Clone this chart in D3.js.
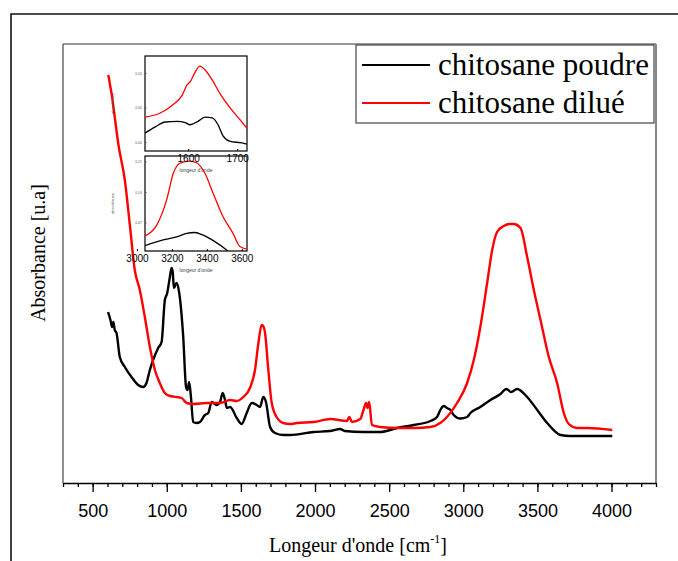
<!DOCTYPE html>
<html>
<head>
<meta charset="utf-8">
<script src="https://cdn.jsdelivr.net/npm/d3@7"></script>
<style>
  body { margin: 0; background: #fff; }
  svg { display: block; }
</style>
</head>
<body>
<script>
// ---- data (wavenumber cm-1, absorbance u.a.) ----
const poudre = [
  [604,1.71],[620,1.63],[631,1.56],[640,1.61],[649,1.53],[661,1.50],[683,1.26],[717,1.16],
  [762,1.06],[807,0.98],[841,0.96],[863,1.00],[886,1.13],[908,1.23],[942,1.35],[965,1.41],
  [987,1.83],[1003,1.90],[1021,2.06],[1032,2.15],[1040,2.11],[1048,1.95],[1066,2.00],[1084,1.90],
  [1111,1.46],[1130,0.96],[1140,0.93],[1151,1.01],[1163,0.86],[1178,0.61],[1201,0.60],[1224,0.61],
  [1257,0.68],[1280,0.70],[1303,0.81],[1336,0.78],[1359,0.81],[1377,0.90],[1393,0.83],[1405,0.75],
  [1427,0.76],[1472,0.65],[1505,0.59],[1539,0.70],[1573,0.80],[1607,0.78],[1629,0.76],[1651,0.86],
  [1669,0.81],[1697,0.56],[1730,0.50],[1786,0.48],[1832,0.48],[1991,0.51],[2100,0.52],[2170,0.54],
  [2200,0.52],[2327,0.51],[2440,0.51],[2553,0.55],[2665,0.58],[2778,0.62],[2823,0.66],[2845,0.73],
  [2868,0.77],[2890,0.75],[2914,0.73],[2935,0.68],[2980,0.645],[3026,0.66],[3048,0.70],[3115,0.76],
  [3183,0.83],[3251,0.89],[3291,0.94],[3323,0.91],[3363,0.94],[3431,0.86],[3499,0.73],[3566,0.60],
  [3656,0.48],[3723,0.47],[4005,0.47]
];
const dilue = [
  [604,4.08],[610,4.05],[615,4.00],[627,3.90],[649,3.66],[672,3.40],[717,3.03],[751,2.58],
  [784,2.13],[818,1.93],[852,1.66],[886,1.36],[920,1.13],[953,1.00],[987,0.90],[1021,0.87],
  [1066,0.86],[1100,0.85],[1134,0.80],[1178,0.79],[1269,0.80],[1359,0.80],[1427,0.83],[1472,0.82],
  [1516,0.86],[1561,0.95],[1595,1.13],[1618,1.40],[1640,1.58],[1650,1.57],[1663,1.50],[1685,1.13],
  [1708,0.80],[1741,0.66],[1786,0.60],[1831,0.59],[1877,0.60],[1991,0.61],[2103,0.64],[2215,0.62],
  [2231,0.66],[2249,0.61],[2305,0.64],[2327,0.73],[2345,0.80],[2354,0.75],[2365,0.81],[2384,0.58],
  [2440,0.56],[2553,0.55],[2665,0.55],[2778,0.56],[2845,0.60],[2890,0.66],[2958,0.80],[3026,1.00],
  [3071,1.23],[3115,1.56],[3161,2.00],[3195,2.33],[3228,2.51],[3273,2.57],[3310,2.59],[3340,2.59],
  [3386,2.55],[3431,2.26],[3476,1.93],[3521,1.63],[3577,1.26],[3633,1.00],[3678,0.70],[3712,0.59],
  [3768,0.55],[3836,0.55],[4005,0.53]
];
// inset 1 : 1500-1720 cm-1
const zoomAmideRouge = [
  [1512,0.036],[1543,0.042],[1569,0.054],[1588,0.068],[1598,0.083],[1604,0.087],[1614,0.101],
  [1624,0.110],[1635,0.104],[1649,0.090],[1665,0.070],[1686,0.049],[1706,0.032],[1720,0.020]
];
const zoomAmideNoir = [
  [1512,0.013],[1533,0.022],[1553,0.029],[1578,0.030],[1594,0.028],[1604,0.025],[1620,0.030],
  [1635,0.036],[1649,0.035],[1661,0.025],[1671,0.009],[1686,0.001],[1706,-0.001],[1720,-0.003]
];
// inset 2 : 3000-3650 cm-1
const zoomOHRouge = [
  [3046,0.039],[3113,0.064],[3170,0.122],[3208,0.183],[3246,0.206],[3303,0.211],[3341,0.207],
  [3389,0.183],[3436,0.137],[3493,0.083],[3550,0.045],[3589,0.015],[3630,0.009]
];
const zoomOHNoir = [
  [3046,0.017],[3150,0.030],[3227,0.037],[3284,0.045],[3331,0.047],[3379,0.041],[3446,0.026],
  [3513,0.007],[3560,-0.01]
];
const seriesNames = ["chitosane poudre", "chitosane dilué"];
const seriesColors = ["#000000", "#ff0000"];
const xTicks = [500,1000,1500,2000,2500,3000,3500,4000];
const inset1XTicks = [1600,1700];
const inset1YTicks = [0.00,0.05,0.10];
const inset2XTicks = [3000,3200,3400,3600];
const inset2YTicks = [0.07,0.14,0.21];

const W = 678, H = 561;
const plot = {left: 63, top: 44, right: 656, bottom: 483};

const svg = d3.select("body").append("svg")
  .attr("width", W).attr("height", H);
svg.append("rect").attr("width", W).attr("height", H).attr("fill", "#fff");

// outer frame (cropped)
svg.append("path")
  .attr("d", `M11,${H} V14 H${W}`)
  .attr("fill", "none").attr("stroke", "#111").attr("stroke-width", 1.6);

const x = d3.scaleLinear().domain([300, 4300]).range([plot.left, plot.right]);
const y = d3.scaleLinear().domain([0, 4.39]).range([plot.bottom, plot.top]);

// plot frame
svg.append("line").attr("x1", plot.left).attr("x2", plot.right)
  .attr("y1", plot.top).attr("y2", plot.top).attr("stroke", "#333").attr("stroke-width", 1);
svg.append("line").attr("x1", plot.left).attr("x2", plot.left)
  .attr("y1", plot.top).attr("y2", plot.bottom).attr("stroke", "#222").attr("stroke-width", 1);
svg.append("line").attr("x1", plot.right).attr("x2", plot.right)
  .attr("y1", plot.top).attr("y2", plot.bottom).attr("stroke", "#888").attr("stroke-width", 2);

// minor ticks
svg.append("g")
  .attr("transform", `translate(0,${plot.bottom})`)
  .call(d3.axisBottom(x).tickValues(d3.range(300, 4301, 100)).tickSize(4).tickFormat(""))
  .call(g => g.select(".domain").remove())
  .call(g => g.selectAll("line").attr("stroke", "#000").attr("stroke-width", 1.3));
// major ticks
svg.append("g")
  .attr("transform", `translate(0,${plot.bottom})`)
  .call(d3.axisBottom(x).tickValues(xTicks).tickSize(9).tickSizeOuter(0).tickPadding(12)
    .tickFormat(d3.format("d")))
  .call(g => g.select(".domain").attr("stroke", "#000").attr("stroke-width", 1.5))
  .call(g => g.selectAll("line").attr("stroke", "#000").attr("stroke-width", 1.3))
  .call(g => g.selectAll("text").attr("font-family", "Liberation Sans, Arial, sans-serif")
    .attr("font-size", 18).attr("fill", "#000"));

// axis titles
const xt = svg.append("text")
  .attr("x", 358).attr("y", 552).attr("text-anchor", "middle")
  .attr("font-family", "Liberation Serif, Times New Roman, serif")
  .attr("font-size", 20).attr("fill", "#000");
xt.append("tspan").text("Longeur d'onde [cm");
xt.append("tspan").attr("font-size", 12).attr("dy", -9).text("-1");
xt.append("tspan").attr("dy", 9).text("]");

svg.append("text")
  .attr("transform", "translate(45,253) rotate(-90)")
  .attr("text-anchor", "middle")
  .attr("font-family", "Liberation Serif, Times New Roman, serif")
  .attr("font-size", 20).attr("fill", "#000")
  .text("Absorbance [u.a]");

// main curves
const line = d3.line().x(d => x(d[0])).y(d => y(d[1])).curve(d3.curveMonotoneX);
[poudre, dilue].forEach((s, i) => {
  svg.append("path").datum(s)
    .attr("d", line)
    .attr("fill", "none")
    .attr("stroke", seriesColors[i])
    .attr("stroke-width", 2.4)
    .attr("stroke-linejoin", "round");
});

// legend
const lg = svg.append("g");
lg.append("rect").attr("x", 356).attr("y", 45).attr("width", 298).attr("height", 78)
  .attr("fill", "#fff").attr("stroke", "#444").attr("stroke-width", 1.2);
seriesNames.forEach((n, i) => {
  const yy = 65 + i * 38;
  lg.append("line").attr("x1", 362).attr("x2", 430).attr("y1", yy).attr("y2", yy)
    .attr("stroke", seriesColors[i]).attr("stroke-width", 2);
  lg.append("text").attr("x", 438).attr("y", yy + 10)
    .attr("font-family", "Liberation Serif, Times New Roman, serif")
    .attr("font-size", 31).attr("fill", "#000").text(n);
});

// ---- insets ----
const insetLayer = svg.append("g");
const insetText = svg.append("g");
function inset(id, box, xd, yd, xt, yt, red, black) {
  const g = insetLayer.append("g");
  const ix = d3.scaleLinear().domain(xd).range([box.x0, box.x1]);
  const iy = d3.scaleLinear().domain(yd).range([box.y1, box.y0]);
  g.append("clipPath").attr("id", id).append("rect")
    .attr("x", box.x0).attr("y", box.y0)
    .attr("width", box.x1 - box.x0).attr("height", box.y1 - box.y0);
  g.append("rect").attr("x", box.x0).attr("y", box.y0)
    .attr("width", box.x1 - box.x0).attr("height", box.y1 - box.y0)
    .attr("fill", "none").attr("stroke", "#000").attr("stroke-width", 1.2);
  const il = d3.line().x(d => ix(d[0])).y(d => iy(d[1])).curve(d3.curveMonotoneX);
  [[black, "#000"], [red, "#ff0000"]].forEach(([s, c]) => {
    g.append("path").datum(s).attr("d", il).attr("clip-path", `url(#${id})`)
      .attr("fill", "none").attr("stroke", c).attr("stroke-width", 1.3);
  });
  insetText.append("g").attr("transform", `translate(0,${box.y1})`)
    .call(d3.axisBottom(ix).tickValues(xt).tickSize(-2).tickPadding(4).tickFormat(d3.format("d")))
    .call(a => a.select(".domain").remove())
    .call(a => a.selectAll("line").attr("stroke", "#000"))
    .call(a => a.selectAll("text").attr("font-family", "Liberation Sans, Arial, sans-serif")
      .attr("font-size", 10).attr("fill", "#000"));
  insetText.append("g").attr("transform", `translate(${box.x0},0)`)
    .call(d3.axisLeft(iy).tickValues(yt).tickSize(-1.5).tickPadding(3).tickFormat(d3.format(".2f")))
    .call(a => a.select(".domain").remove())
    .call(a => a.selectAll("line").attr("stroke", "#555"))
    .call(a => a.selectAll("text").attr("font-family", "Liberation Sans, Arial, sans-serif")
      .attr("font-size", 3.5).attr("fill", "#555"));
  insetText.append("text").attr("x", (box.x0 + box.x1) / 2).attr("y", box.y1 + 21)
    .attr("text-anchor", "middle").attr("font-family", "Liberation Sans, Arial, sans-serif")
    .attr("font-size", 5).attr("fill", "#444").text("longeur d'onde");
  insetText.append("text")
    .attr("transform", `translate(${box.x0 - 31},${(box.y0 + box.y1) / 2}) rotate(-90)`)
    .attr("text-anchor", "middle").attr("font-family", "Liberation Sans, Arial, sans-serif")
    .attr("font-size", 4).attr("fill", "#555").text("absorbance");
}
inset("c1", {x0: 145, x1: 247, y0: 56, y1: 151}, [1512, 1720], [-0.013, 0.1246],
  inset1XTicks, inset1YTicks, zoomAmideRouge, zoomAmideNoir);
inset("c2", {x0: 145, x1: 247, y0: 156, y1: 251}, [3046, 3630], [0.0046, 0.2226],
  inset2XTicks, inset2YTicks, zoomOHRouge, zoomOHNoir);
</script>
</body>
</html>
